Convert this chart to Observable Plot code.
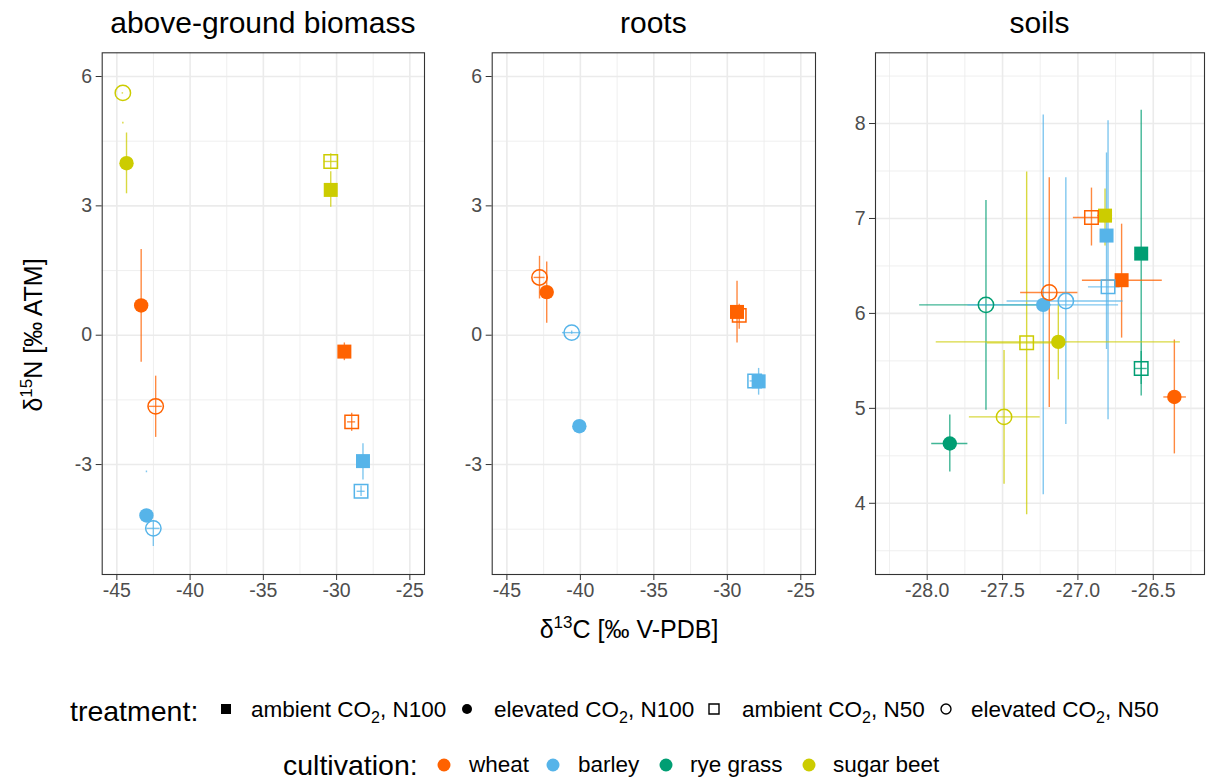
<!DOCTYPE html>
<html>
<head>
<meta charset="utf-8">
<script src="https://cdn.jsdelivr.net/npm/d3@7"></script>
<script src="https://cdn.jsdelivr.net/npm/@observablehq/plot@0.6"></script>
<style>
  body { margin: 0; background: #fff; font-family: "Liberation Sans", Arial, sans-serif; }
  #chart { position: relative; width: 1206px; height: 783px; overflow: hidden; background: #fff; }
  .panel { position: absolute; top: 0; }
  #overlay { position: absolute; left: 0; top: 0; pointer-events: none; }
</style>
</head>
<body>
<div id="chart"></div>
<script>
// ---- categories ----
const pools = ["above-ground biomass", "roots", "soils"];
const cultivations = ["wheat", "barley", "rye grass", "sugar beet"];
const treatments = ["ambient CO2, N100", "elevated CO2, N100", "ambient CO2, N50", "elevated CO2, N50"];

// ---- observations: pool, cultivation, treatment, δ13C (mean, low, high), δ15N (mean, low, high) ----
const obsPool = [
  "above-ground biomass", "above-ground biomass", "above-ground biomass", "above-ground biomass",
  "above-ground biomass", "above-ground biomass", "above-ground biomass", "above-ground biomass",
  "above-ground biomass", "above-ground biomass", "above-ground biomass", "above-ground biomass",
  "roots", "roots", "roots", "roots", "roots", "roots", "roots", "roots",
  "soils", "soils", "soils", "soils", "soils", "soils", "soils", "soils",
  "soils", "soils", "soils", "soils", "soils", "soils", "soils", "soils"
];
const obsCrop = [
  "sugar beet", "sugar beet", "sugar beet", "sugar beet",
  "wheat", "wheat", "wheat", "wheat",
  "barley", "barley", "barley", "barley",
  "wheat", "wheat", "barley", "barley", "wheat", "wheat", "barley", "barley",
  "rye grass", "sugar beet", "rye grass", "sugar beet", "sugar beet", "barley", "barley", "wheat",
  "wheat", "sugar beet", "barley", "barley", "wheat", "rye grass", "rye grass", "wheat"
];
const obsTreatment = [
  "elevated CO2, N50", "elevated CO2, N100", "ambient CO2, N50", "ambient CO2, N100",
  "elevated CO2, N100", "elevated CO2, N50", "ambient CO2, N100", "ambient CO2, N50",
  "ambient CO2, N100", "ambient CO2, N50", "elevated CO2, N100", "elevated CO2, N50",
  "elevated CO2, N50", "elevated CO2, N100", "elevated CO2, N50", "elevated CO2, N100",
  "ambient CO2, N100", "ambient CO2, N50", "ambient CO2, N50", "ambient CO2, N100",
  "elevated CO2, N100", "elevated CO2, N50", "elevated CO2, N50", "ambient CO2, N50",
  "elevated CO2, N100", "elevated CO2, N100", "elevated CO2, N50", "elevated CO2, N50",
  "ambient CO2, N50", "ambient CO2, N100", "ambient CO2, N100", "ambient CO2, N50",
  "ambient CO2, N100", "ambient CO2, N100", "ambient CO2, N50", "elevated CO2, N100"
];
const d13C = [
  -44.59, -44.34, -30.40, -30.40, -43.34, -42.35, -29.47, -28.97, -28.20, -28.33, -42.98, -42.51,
  -42.78, -42.29, -40.59, -40.07, -29.34, -29.19, -28.14, -27.87,
  -27.85, -27.49, -27.61, -27.34, -27.13, -27.23, -27.08, -27.19,
  -26.91, -26.82, -26.81, -26.80, -26.71, -26.58, -26.58, -26.36
];
const d13CLow = [
  -44.64, -44.64, -30.85, -30.70, -43.60, -42.80, -29.70, -29.25, -28.45, -28.60, -43.20, -42.95,
  -43.15, -42.55, -41.22, -40.30, -29.60, -29.45, -28.45, -28.10,
  -27.97, -27.72, -28.05, -27.60, -27.94, -27.73, -27.47, -27.38,
  -27.03, -26.87, -26.85, -26.93, -26.97, -26.62, -26.62, -26.43
];
const d13CHigh = [
  -44.54, -44.04, -29.95, -30.10, -43.10, -41.90, -29.20, -28.70, -27.95, -28.05, -42.75, -42.05,
  -42.40, -42.05, -39.96, -39.85, -29.10, -28.95, -27.85, -27.65,
  -27.73, -27.25, -27.18, -27.08, -26.32, -26.73, -26.70, -27.00,
  -26.78, -26.77, -26.77, -26.72, -26.44, -26.54, -26.54, -26.28
];
const d15N = [
  5.62, 3.99, 4.03, 3.37, 0.69, -1.65, -0.38, -2.01, -2.92, -3.62, -4.18, -4.48,
  1.34, 1.00, 0.06, -2.11, 0.54, 0.46, -1.06, -1.07,
  4.63, 4.91, 6.09, 5.69, 5.70, 6.09, 6.13, 6.22,
  7.01, 7.03, 6.82, 6.28, 6.35, 6.63, 5.42, 5.12
];
const d15NLow = [
  4.90, 3.28, 3.84, 2.97, -0.63, -2.37, -0.59, -2.23, -3.36, -3.74, -3.19, -4.90,
  0.84, 0.28, 0.02, -2.20, -0.18, 0.14, -1.15, -1.39,
  4.33, 4.20, 4.98, 3.88, 5.30, 4.09, 4.83, 5.01,
  6.71, 6.71, 5.62, 4.88, 5.74, 5.13, 5.25, 4.52
];
const d15NHigh = [
  4.94, 4.69, 4.21, 3.79, 1.99, -0.95, -0.18, -1.81, -2.52, -3.50, -3.15, -4.30,
  1.83, 1.70, 0.10, -2.00, 1.25, 0.72, -0.97, -0.77,
  4.93, 5.61, 7.19, 7.49, 6.10, 8.09, 7.43, 7.43,
  7.32, 7.31, 7.69, 8.03, 6.94, 8.14, 5.60, 5.72
];

// ---- axis ticks per panel ----
const isoMajorX = [-45, -40, -35, -30, -25];
const isoMinorX = [-42.5, -37.5, -32.5, -27.5];
const isoMajorY = [-3, 0, 3, 6];
const isoMinorY = [-4.5, -1.5, 1.5, 4.5];
const soilMajorX = [-28, -27.5, -27, -26.5];
const soilMinorX = [-28.25, -27.75, -27.25, -26.75, -26.25];
const soilMajorY = [4, 5, 6, 7, 8];
const soilMinorY = [3.5, 4.5, 5.5, 6.5, 7.5, 8.5];

// ---- styling ----
const cropColors = ["#FF6200", "#56B4E9", "#009E73", "#CCCC00"];
const treatmentSymbols = ["square", "circle", "square", "circle"];
const treatmentFilled = [true, true, false, false];

const rows = obsPool.map((pool, i) => ({
  pool, crop: obsCrop[i], treatment: obsTreatment[i],
  x: d13C[i], xLo: d13CLow[i], xHi: d13CHigh[i],
  y: d15N[i], yLo: d15NLow[i], yHi: d15NHigh[i]
}));

const panelLayout = [
  {svgLeft: 0, marginLeft: 101.7, frameWidth: 322.3, xDomain: [-46, -24], yDomain: [-5.55, 6.55],
   xMajor: isoMajorX, xMinor: isoMinorX, yMajor: isoMajorY, yMinor: isoMinorY, xFmt: d => String(d)},
  {svgLeft: 440, marginLeft: 51.7, frameWidth: 323.3, xDomain: [-46, -24], yDomain: [-5.55, 6.55],
   xMajor: isoMajorX, xMinor: isoMinorX, yMajor: isoMajorY, yMinor: isoMinorY, xFmt: d => String(d)},
  {svgLeft: 825, marginLeft: 50, frameWidth: 329, xDomain: [-28.343, -26.16], yDomain: [3.25, 8.745],
   xMajor: soilMajorX, xMinor: soilMinorX, yMajor: soilMajorY, yMinor: soilMinorY, xFmt: d => d.toFixed(1)}
];

const FONT = "'Liberation Sans', Arial, sans-serif";
const chart = document.getElementById("chart");
const marginTop = 52.3, frameHeight = 521.7, marginBottom = 50, marginRight = 2;

pools.forEach((pool, p) => {
  const L = panelLayout[p];
  const data = rows.filter(d => d.pool === pool);
  const byTreatment = k => data.filter(d => d.treatment === treatments[k]);
  const grid = {stroke: "#EBEBEB", strokeOpacity: 1};
  const bar = {stroke: "crop", strokeOpacity: 0.75, strokeWidth: 1.4};
  const svg = Plot.plot({
    width: L.marginLeft + L.frameWidth + marginRight,
    height: marginTop + frameHeight + marginBottom,
    marginLeft: L.marginLeft, marginRight, marginTop, marginBottom,
    x: {domain: L.xDomain, label: null},
    y: {domain: L.yDomain, label: null},
    color: {domain: cultivations, range: cropColors},
    symbol: {domain: treatments, range: treatmentSymbols},
    style: {fontFamily: FONT, fontSize: "19.5px", background: "transparent", overflow: "visible"},
    marks: [
      Plot.gridX(L.xMinor, {...grid, strokeWidth: 0.8}),
      Plot.gridY(L.yMinor, {...grid, strokeWidth: 0.8}),
      Plot.gridX(L.xMajor, {...grid, strokeWidth: 1.6}),
      Plot.gridY(L.yMajor, {...grid, strokeWidth: 1.6}),
      // error bars
      Plot.ruleX(data, {x: "x", y1: "yLo", y2: "yHi", ...bar}),
      Plot.ruleY(data, {y: "y", x1: "xLo", x2: "xHi", ...bar}),
      // points: filled square, filled circle, open square, open circle
      Plot.dot(byTreatment(0), {x: "x", y: "y", symbol: "treatment", fill: "crop", r: 7.9}),
      Plot.dot(byTreatment(1), {x: "x", y: "y", symbol: "treatment", fill: "crop", r: 7.2}),
      Plot.dot(byTreatment(2), {x: "x", y: "y", symbol: "treatment", fill: "none", stroke: "crop", strokeWidth: 1.5, r: 7.6}),
      Plot.dot(byTreatment(3), {x: "x", y: "y", symbol: "treatment", fill: "none", stroke: "crop", strokeWidth: 1.5, r: 7.7}),
      Plot.frame({stroke: "#333333", strokeWidth: 1.1}),
      Plot.axisX(L.xMajor, {tickSize: 6, tickPadding: 3, tickFormat: L.xFmt, stroke: "#333333", fill: "#4D4D4D", fontSize: 19.5, label: null}),
      Plot.axisY(L.yMajor, {tickSize: 6, tickPadding: 4, tickFormat: d => String(d), stroke: "#333333", fill: "#4D4D4D", fontSize: 19.5, label: null})
    ]
  });
  const holder = document.createElement("div");
  holder.className = "panel";
  holder.style.left = L.svgLeft + "px";
  holder.appendChild(svg);
  chart.appendChild(holder);
});

// ---- titles, axis titles and legends ----
const overlay = d3.select(chart).append("svg")
  .attr("id", "overlay").attr("width", 1206).attr("height", 783)
  .style("font-family", FONT);

const panelCenters = panelLayout.map(L => L.svgLeft + L.marginLeft + L.frameWidth / 2);
overlay.selectAll("text.strip").data(pools).join("text")
  .attr("class", "strip")
  .attr("x", (d, i) => panelCenters[i]).attr("y", 33)
  .attr("text-anchor", "middle").attr("font-size", 30).attr("fill", "#000")
  .text(d => d);

// x axis title
const xt = overlay.append("text").attr("x", 629).attr("y", 638)
  .attr("text-anchor", "middle").attr("font-size", 25).attr("fill", "#000");
xt.append("tspan").text("δ");
xt.append("tspan").attr("dy", -10).attr("font-size", 17).text("13");
xt.append("tspan").attr("dy", 10).text("C [‰ V-PDB]");

// y axis title
const yt = overlay.append("text").attr("transform", "translate(41.5,335) rotate(-90)")
  .attr("text-anchor", "middle").attr("font-size", 25).attr("fill", "#000");
yt.append("tspan").text("δ");
yt.append("tspan").attr("dy", -10).attr("font-size", 17).text("15");
yt.append("tspan").attr("dy", 10).text("N [‰ ATM]");

// treatment legend
overlay.append("text").attr("x", 70).attr("y", 721).attr("font-size", 28.5).attr("fill", "#000").text("treatment:");
const treatmentKeyX = [226, 467, 714, 946];
const treatmentTextX = [251, 494, 742, 971];
treatments.forEach((t, i) => {
  const area = treatmentSymbols[i] === "square" ? 100 : 78;
  overlay.append("path")
    .attr("transform", `translate(${treatmentKeyX[i]},709)`)
    .attr("d", d3.symbol(treatmentSymbols[i] === "square" ? d3.symbolSquare : d3.symbolCircle, area)())
    .attr("fill", treatmentFilled[i] ? "#000" : "none")
    .attr("stroke", treatmentFilled[i] ? "none" : "#000")
    .attr("stroke-width", 1.4);
  const [gas, dose] = t.split(", ");
  const txt = overlay.append("text").attr("x", treatmentTextX[i]).attr("y", 717)
    .attr("font-size", 22.5).attr("fill", "#000");
  txt.append("tspan").text(gas.replace("CO2", "CO"));
  txt.append("tspan").attr("dy", 6).attr("font-size", 16).text("2");
  txt.append("tspan").attr("dy", -6).text(", " + dose);
});

// cultivation legend
overlay.append("text").attr("x", 283).attr("y", 775).attr("font-size", 28.5).attr("fill", "#000").text("cultivation:");
const cropKeyX = [444, 553, 666, 809];
const cropTextX = [469, 578, 690, 833];
cultivations.forEach((c, i) => {
  overlay.append("circle").attr("cx", cropKeyX[i]).attr("cy", 765).attr("r", 6.5).attr("fill", cropColors[i]);
  overlay.append("text").attr("x", cropTextX[i]).attr("y", 772)
    .attr("font-size", 22.5).attr("fill", "#000").text(c);
});
</script>
</body>
</html>
